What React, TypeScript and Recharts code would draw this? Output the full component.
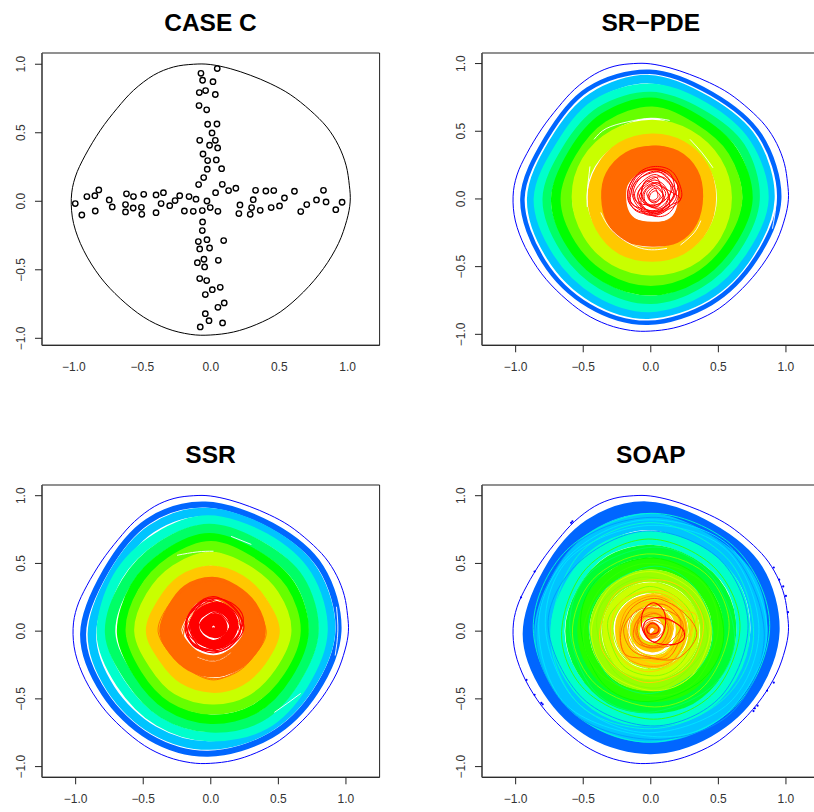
import { ComposedChart, Line, Scatter, XAxis, YAxis, ReferenceArea } from "recharts";

const tickValues = [-1, -0.5, 0, 0.5, 1];

// CASE C sample points
const caseXs = [-0.99,-0.942,-0.905,-0.847,-0.818,-0.844,-0.742,-0.72,-0.616,-0.623,-0.623,-0.565,-0.567,-0.507,-0.504,-0.49,-0.4,-0.4,-0.363,-0.346,-0.3,-0.261,-0.227,-0.193,-0.159,-0.128,-0.108,-0.089,-0.062,-0.028,-0.004,0.035,0.052,0.084,0.13,0.183,0.205,0.213,0.288,0.298,0.31,0.327,0.361,0.402,0.441,0.46,0.502,0.538,0.611,0.657,0.701,0.772,0.823,0.842,0.913,0.959,
  0.047,-0.072,-0.06,0.016,-0.084,-0.038,0.033,-0.086,-0.03,-0.023,0.045,0.009,-0.081,0.033,-0.009,0.05,-0.057,-0.023,0.04,-0.026,0.079,-0.052,-0.06,-0.062,-0.091,-0.028,0.094,-0.081,-0.009,-0.05,0.055,-0.098,-0.045,-0.081,-0.03,0.069,0.011,-0.04,0.098,0.052,-0.04,-0.013,0.086,-0.077];
const caseYs = [-0.017,-0.1,0.034,0.041,0.083,-0.071,0.01,-0.041,0.054,-0.024,-0.078,0.034,-0.049,-0.044,-0.095,0.051,0.046,-0.083,-0.017,0.063,-0.032,0.005,0.041,-0.071,0.034,-0.073,0.015,0.122,-0.068,0.002,-0.046,0.063,-0.073,0.124,0.078,0.095,-0.09,-0.027,-0.095,-0.046,0.012,0.08,-0.066,0.075,-0.046,0.078,-0.034,0.024,0.073,-0.075,-0.024,0.01,0.08,-0.005,-0.061,-0.007,
  0.968,0.934,0.883,0.873,0.793,0.808,0.779,0.698,0.667,0.562,0.564,0.499,0.445,0.445,0.409,0.389,0.345,0.297,0.302,0.234,0.238,0.173,-0.151,-0.214,-0.294,-0.28,-0.287,-0.348,-0.341,-0.423,-0.431,-0.448,-0.479,-0.564,-0.579,-0.628,-0.645,-0.681,-0.742,-0.774,-0.82,-0.871,-0.888,-0.917];

// domain outline, shared by all panels
const boundary = [-0.004,0.998,0.142,0.968,0.288,0.92,0.434,0.859,0.58,0.779,0.726,0.664,0.847,0.542,0.932,0.409,0.988,0.263,1.012,0.117,1.018,-0.005,0.993,-0.139,0.932,-0.309,0.823,-0.491,0.677,-0.662,0.507,-0.808,0.336,-0.898,0.166,-0.954,-0.004,-0.976,-0.15,-0.971,-0.32,-0.929,-0.491,-0.845,-0.661,-0.71,-0.807,-0.553,-0.929,-0.358,-1.002,-0.163,-1.019,0.02,-0.99,0.177,-0.917,0.336,-0.807,0.518,-0.685,0.677,-0.564,0.81,-0.418,0.92,-0.272,0.98,-0.126,1];

// SR-PDE bands, outermost first
const pdeBands = [
  [0.95,0,0.81,0.468,0.449,0.778,-0.01,0.94,-0.467,0.81,-0.775,0.447,-0.95,0,-0.795,-0.459,-0.456,-0.79,-0.02,-0.915,0.445,-0.77,0.773,-0.446],
  [0.885,0,0.758,0.437,0.42,0.727,-0.01,0.885,-0.435,0.753,-0.723,0.417,-0.885,0,-0.74,-0.427,-0.425,-0.736,-0.02,-0.855,0.415,-0.719,0.723,-0.417],
  [0.835,0,0.706,0.407,0.392,0.68,0,0.815,-0.405,0.7,-0.671,0.387,-0.83,0,-0.688,-0.397,-0.395,-0.684,-0.01,-0.8,0.387,-0.671,0.675,-0.39],
  [0.775,0,0.667,0.385,0.367,0.636,0,0.76,-0.375,0.65,-0.628,0.362,-0.77,0,-0.64,-0.37,-0.367,-0.636,0,-0.745,0.362,-0.628,0.632,-0.365],
  [0.715,0,0.606,0.35,0.337,0.585,0,0.71,-0.345,0.598,-0.576,0.332,-0.7,0,-0.585,-0.337,-0.335,-0.58,0,-0.675,0.332,-0.576,0.58,-0.335],
  [0.635,0,0.541,0.312,0.302,0.524,0.01,0.64,-0.31,0.537,-0.52,0.3,-0.625,0,-0.52,-0.3,-0.297,-0.515,0,-0.6,0.297,-0.515,0.52,-0.3],
  [0.545,0.01,0.47,0.27,0.27,0.46,0.01,0.53,-0.26,0.46,-0.46,0.27,-0.53,0.01,-0.45,-0.25,-0.26,-0.44,0,-0.51,0.27,-0.45,0.47,-0.26],
  [0.43,0.02,0.375,0.23,0.22,0.38,0.01,0.43,-0.21,0.37,-0.36,0.21,-0.415,0.01,-0.36,-0.2,-0.21,-0.36,0.01,-0.41,0.22,-0.36,0.38,-0.2],
  [0.295,0.02,0.265,0.17,0.16,0.275,0.01,0.3,-0.14,0.265,-0.25,0.15,-0.275,0.01,-0.24,-0.14,-0.14,-0.235,0.01,-0.26,0.16,-0.24,0.26,-0.14],
];
const pdeWidths = [4.5, 8.5, 10, 8.5, 10.5, 11.5, 15, 14.5, 25];

const pdeOrange = [
  [0.37,0.04,0.31,0.23,0.16,0.36,0.01,0.39,-0.16,0.33,-0.31,0.15,-0.35,0.02,-0.3,-0.17,-0.17,-0.3,0.01,-0.34,0.2,-0.31,0.33,-0.17],
  [0.22,0.05,0.18,0.17,0.04,0.25,-0.1,0.19,-0.2,0.05,-0.16,-0.12,0.02,-0.18,0.17,-0.12],
  [0.25,0.02,0.2,0.2,0.02,0.27,-0.13,0.2,-0.23,0.03,-0.17,-0.15,0.01,-0.2,0.2,-0.14],
];

const pdeRed = [
  [0.23,0.03,0.17,0.19,0.05,0.24,-0.08,0.2,-0.17,0.06,-0.12,-0.08,0.02,-0.11,0.16,-0.06],
  [0.21,0.06,0.15,0.16,0.03,0.22,-0.1,0.17,-0.16,0.03,-0.11,-0.06,0.04,-0.13,0.15,-0.09],
  [0.19,0.02,0.14,0.14,0.06,0.2,-0.07,0.16,-0.14,0.07,-0.1,-0.05,0,-0.1,0.12,-0.07],
  [0.17,0.05,0.12,0.13,0.03,0.18,-0.06,0.13,-0.12,0.04,-0.08,-0.05,0.03,-0.09,0.13,-0.04],
  [0.15,0.07,0.11,0.15,0.04,0.16,-0.05,0.11,-0.1,0.03,-0.07,-0.04,0.02,-0.11,0.1,-0.06],
  [0.13,0.02,0.1,0.1,0.03,0.14,-0.03,0.11,-0.09,0.05,-0.05,-0.03,0.04,-0.07,0.1,-0.04],
  [0.11,0.04,0.08,0.09,0.05,0.12,-0.02,0.09,-0.06,0.03,-0.04,-0.02,0.03,-0.06,0.08,-0.02],
  [0.1,0,0.07,0.07,0.02,0.1,-0.03,0.07,-0.05,0.02,-0.03,-0.04,0.02,-0.05,0.07,-0.03],
  [0.09,0.03,0.07,0.06,0.04,0.08,0,0.06,-0.02,0.02,-0.01,-0.01,0.03,-0.03,0.07,0],
  [0.07,0.02,0.05,0.05,0.03,0.06,0,0.04,-0.01,0.01,0,-0.02,0.03,-0.02,0.05,-0.01],
  [0.05,0.04,0.04,0.07,0.02,0.09,-0.01,0.07,-0.03,0.04,-0.01,0,0.02,-0.01,0.05,0.01],
  [0.22,0,0.12,0.07,0.04,0.12,-0.05,0.08,-0.09,-0.01,-0.05,-0.07,0.03,-0.12,0.14,-0.05],
  [0.2,0.1,0.1,0.2,-0.02,0.21,-0.12,0.12,-0.15,-0.02,-0.07,-0.07,0.06,-0.09,0.14,-0.02],
  [0.16,0.1,0.08,0.19,0,0.2,-0.09,0.14,-0.13,0.05,-0.09,-0.03,0.05,-0.04,0.13,0.02],
  [0.18,0.05,0.14,0.19,0.01,0.22,-0.13,0.15,-0.17,0,-0.09,-0.09,0.05,-0.08,0.14,-0.03],
  [0.14,-0.02,0.12,0.06,0.06,0.1,-0.04,0.13,-0.07,0.02,-0.06,-0.1,0.04,-0.12,0.12,-0.08],
  [0.08,0.08,0.04,0.16,-0.03,0.14,-0.07,0.06,-0.05,-0.02,0.01,-0.06,0.06,-0.05,0.09,0.01],
];

// gaps where the fitted contours do not touch
const pdeGaps = [
  [-0.42,0.44,-0.33,0.52,-0.17,0.57,0,0.596,0.14,0.58],
  [0.29,0.44,0.38,0.34,0.46,0.23],
  [-0.45,0.24,-0.47,0.05,-0.47,-0.06],
  [0.92,0.1,0.925,-0.05,0.9,-0.22],
  [-0.37,-0.1,-0.27,-0.25,-0.07,-0.365,0.12,-0.365],
  [0.37,-0.16,0.32,-0.25,0.22,-0.34],
];

// SSR bands
const ssrBands = [
  [0.945,0,0.815,0.47,0.45,0.78,-0.04,0.935,-0.467,0.81,-0.775,0.447,-0.945,-0.02,-0.79,-0.457,-0.452,-0.784,-0.02,-0.905,0.445,-0.77,0.775,-0.447],
  [0.89,0,0.766,0.442,0.425,0.736,-0.03,0.88,-0.437,0.758,-0.727,0.42,-0.88,-0.02,-0.74,-0.427,-0.422,-0.732,-0.01,-0.845,0.417,-0.723,0.727,-0.42],
  [0.83,0,0.714,0.412,0.4,0.69,-0.02,0.82,-0.4,0.69,-0.69,0.4,-0.81,-0.02,-0.667,-0.385,-0.385,-0.667,-0.01,-0.78,0.4,-0.69,0.685,-0.395],
  [0.76,0,0.655,0.378,0.363,0.628,-0.01,0.755,-0.363,0.628,-0.624,0.36,-0.745,-0.01,-0.6,-0.348,-0.35,-0.606,0,-0.71,0.365,-0.632,0.624,-0.36],
  [0.69,0,0.59,0.34,0.328,0.567,-0.01,0.69,-0.328,0.567,-0.563,0.325,-0.66,-0.01,-0.54,-0.312,-0.318,-0.55,0,-0.65,0.33,-0.572,0.567,-0.328],
  [0.625,0,0.528,0.305,0.295,0.51,0,0.625,-0.295,0.51,-0.5,0.29,-0.59,0,-0.48,-0.278,-0.283,-0.49,0,-0.575,0.292,-0.507,0.51,-0.295],
  [0.545,0,0.455,0.262,0.255,0.442,0,0.535,-0.255,0.442,-0.433,0.25,-0.515,0,-0.41,-0.238,-0.243,-0.42,0.01,-0.49,0.25,-0.433,0.437,-0.252],
  [0.455,0,0.364,0.21,0.21,0.364,0,0.43,-0.208,0.36,-0.346,0.2,-0.425,0,-0.333,-0.192,-0.195,-0.338,0.01,-0.4,0.205,-0.355,0.36,-0.208],
  [0.325,0,0.27,0.16,0.15,0.27,0.01,0.32,-0.15,0.27,-0.25,0.14,-0.3,0,-0.24,-0.12,-0.13,-0.22,0.02,-0.26,0.16,-0.22,0.27,-0.12],
];
const ssrWidths = [6, 8.5, 9.5, 10.5, 9.5, 11, 14, 15, 22];

const ssrOrange = [
  [0.41,0,0.3,0.22,0.17,0.33,-0.02,0.39,-0.2,0.3,-0.32,0.18,-0.39,0,-0.29,-0.18,-0.16,-0.29,0.02,-0.36,0.2,-0.29,0.33,-0.17],
  [0.4,0.03,0.31,0.18,0.15,0.34,0,0.37,-0.17,0.32,-0.3,0.2,-0.37,-0.02,-0.31,-0.15,-0.18,-0.27,0,-0.35,0.18,-0.31,0.31,-0.19],
  [0.26,0,0.2,-0.09,0.12,-0.15,0.03,-0.2,-0.07,-0.18,-0.16,-0.12,-0.2,-0.02,-0.12,0.14,0.02,0.22,0.16,0.16],
  [0.25,-0.04,0.19,-0.12,0.1,-0.18,0.02,-0.22,-0.09,-0.19,-0.17,-0.14,-0.22,-0.04,-0.15,0.12,0.02,0.2,0.17,0.12],
  [0.24,-0.02,0.18,-0.14,0.08,-0.2,0,-0.24,-0.11,-0.2,-0.19,-0.12,-0.2,0,-0.13,0.1,0.04,0.19,0.17,0.1],
];

const ssrCore = [
  [0.17,0.05,0.12,0.14,0.03,0.18,-0.07,0.14,-0.12,0.05,-0.08,-0.05,0.03,-0.1,0.13,-0.05],
  [0.09,0.04,0.07,0.08,0.03,0.1,-0.02,0.08,-0.05,0.04,-0.02,0,0.03,-0.02,0.08,0],
  [0.05,0.03,0.04,0.05,0.02,0.06,0,0.05,-0.01,0.03,0,0.01,0.02,0.01,0.04,0.01],
];
const ssrCoreWidths = [9, 9, 5];

const ssrRed = [
  [0.245,0.03,0.17,0.17,0.02,0.255,-0.12,0.18,-0.19,0.03,-0.13,-0.1,0.02,-0.16,0.17,-0.09],
  [0.23,0.06,0.16,0.19,0.04,0.24,-0.13,0.15,-0.18,0.06,-0.14,-0.08,0.04,-0.15,0.16,-0.1],
  [0.22,0,0.18,0.14,0,0.23,-0.1,0.17,-0.17,0,-0.12,-0.1,0,-0.14,0.15,-0.08],
  [0.2,0.04,0.15,0.15,0.05,0.21,-0.1,0.14,-0.16,0.04,-0.11,-0.07,0.03,-0.13,0.14,-0.07],
  [0.19,0.07,0.13,0.17,0.02,0.2,-0.09,0.15,-0.15,0.07,-0.11,-0.05,0.05,-0.12,0.15,-0.05],
  [0.18,0.01,0.14,0.12,0.04,0.19,-0.08,0.13,-0.14,0.02,-0.09,-0.08,0.02,-0.11,0.13,-0.06],
  [0.17,0.05,0.12,0.13,0.01,0.17,-0.08,0.12,-0.13,0.05,-0.09,-0.05,0.04,-0.1,0.12,-0.04],
  [0.16,0.02,0.12,0.11,0.05,0.16,-0.06,0.12,-0.11,0.02,-0.08,-0.06,0.03,-0.09,0.11,-0.05],
  [0.15,0.06,0.1,0.12,0.02,0.15,-0.07,0.1,-0.11,0.05,-0.07,-0.03,0.04,-0.08,0.11,-0.02],
  [0.14,0.03,0.11,0.09,0.04,0.14,-0.04,0.1,-0.09,0.03,-0.06,-0.05,0.02,-0.07,0.1,-0.03],
  [0.24,0.1,0.15,0.21,-0.02,0.24,-0.16,0.13,-0.17,-0.02,-0.11,-0.12,0.06,-0.14,0.19,-0.04],
  [0.21,-0.02,0.17,0.09,0.07,0.18,-0.05,0.22,-0.18,0.09,-0.15,-0.04,-0.02,-0.12,0.12,-0.11],
  [0.19,0.1,0.1,0.2,-0.04,0.19,-0.14,0.08,-0.13,-0.05,-0.05,-0.13,0.08,-0.1,0.17,-0.02],
];

const ssrGaps = [
  [-0.25,0.56,-0.1,0.585,0.02,0.59],
  [0.15,0.7,0.3,0.64],
  [0.47,-0.6,0.57,-0.53,0.665,-0.46],
  [0.93,0.18,0.94,0,0.92,-0.18],
  [-0.1,-0.19,0.03,-0.22,0.15,-0.16],
];

// SOAP bands and loose loops
const soapBands = [
  [0.905,0,0.784,0.452,0.435,0.753,-0.03,0.91,-0.45,0.78,-0.75,0.432,-0.9,-0.02,-0.753,-0.435,-0.43,-0.745,0,-0.86,0.425,-0.736,0.753,-0.435],
  [0.8,0,0.7,0.4,0.39,0.67,-0.01,0.81,-0.4,0.69,-0.67,0.39,-0.8,-0.01,-0.67,-0.385,-0.385,-0.66,0,-0.76,0.38,-0.66,0.67,-0.385],
  [0.685,0,0.6,0.345,0.34,0.585,0,0.69,-0.35,0.6,-0.585,0.34,-0.69,0,-0.585,-0.335,-0.34,-0.575,0,-0.655,0.335,-0.58,0.585,-0.335],
  [0.585,0,0.51,0.295,0.29,0.5,0,0.59,-0.3,0.51,-0.5,0.29,-0.585,0,-0.5,-0.285,-0.29,-0.495,0,-0.56,0.29,-0.495,0.5,-0.285],
  [0.5,0,0.43,0.25,0.25,0.43,0,0.5,-0.25,0.43,-0.43,0.25,-0.5,0,-0.43,-0.245,-0.25,-0.425,0,-0.48,0.25,-0.425,0.43,-0.245],
  [0.41,0,0.355,0.205,0.205,0.355,0,0.41,-0.205,0.355,-0.355,0.205,-0.41,0,-0.355,-0.2,-0.205,-0.35,0,-0.4,0.205,-0.35,0.355,-0.2],
  [0.32,0.01,0.28,0.16,0.16,0.28,0,0.32,-0.16,0.28,-0.28,0.16,-0.32,0,-0.28,-0.16,-0.16,-0.28,0,-0.32,0.16,-0.28,0.28,-0.16],
  [0.23,0.01,0.2,0.12,0.12,0.21,0.01,0.23,-0.11,0.2,-0.2,0.11,-0.22,0,-0.19,-0.12,-0.11,-0.2,0.01,-0.23,0.12,-0.2,0.2,-0.11],
  [0.13,0.02,0.11,0.08,0.07,0.12,0.01,0.14,-0.06,0.12,-0.1,0.07,-0.12,0,-0.1,-0.06,-0.06,-0.1,0.01,-0.12,0.07,-0.1,0.11,-0.06],
  [0.05,0.01,0.04,0.03,0.01,0.05,-0.02,0.03,-0.03,0,-0.02,-0.03,0,-0.04,0.03,-0.02],
];
const soapWidths = [13, 17, 14, 13, 12, 12, 11, 12, 10, 6];

const soapCyan = [
  [0.88,0.04,0.62,0.62,0,0.87,-0.62,0.6,-0.87,0.02,-0.6,-0.58,0,-0.82,0.62,-0.56],
  [0.84,-0.03,0.6,0.58,0.04,0.84,-0.58,0.62,-0.85,-0.03,-0.58,-0.6,0.03,-0.8,0.6,-0.6],
  [0.8,0.02,0.56,0.6,-0.02,0.78,-0.6,0.54,-0.78,0.03,-0.55,-0.52,-0.02,-0.75,0.58,-0.53],
  [0.76,-0.04,0.58,0.52,0.03,0.8,-0.52,0.58,-0.74,-0.03,-0.52,-0.55,0.02,-0.72,0.54,-0.5],
  [0.72,0.05,0.5,0.54,-0.03,0.74,-0.54,0.5,-0.76,0.04,-0.5,-0.5,0.03,-0.7,0.52,-0.48],
  [0.86,-0.01,0.58,0.63,-0.05,0.82,-0.6,0.56,-0.83,0.05,-0.62,-0.55,0.05,-0.78,0.57,-0.6],
];
const soapGreen = [
  [0.66,0.04,0.46,0.48,-0.02,0.68,-0.48,0.46,-0.66,-0.03,-0.47,-0.45,0.02,-0.65,0.47,-0.45],
  [0.62,-0.05,0.44,0.42,0.04,0.62,-0.44,0.44,-0.6,0.04,-0.42,-0.44,-0.03,-0.6,0.44,-0.42],
  [0.58,0.04,0.4,0.43,-0.03,0.57,-0.43,0.38,-0.58,-0.02,-0.4,-0.4,0.03,-0.56,0.4,-0.4],
  [0.54,-0.03,0.4,0.36,0.02,0.54,-0.38,0.4,-0.52,0.05,-0.36,-0.38,-0.02,-0.52,0.38,-0.36],
  [0.5,0.03,0.36,0.38,-0.04,0.5,-0.36,0.33,-0.5,-0.03,-0.36,-0.33,0.03,-0.48,0.34,-0.36],
  [0.46,-0.02,0.32,0.33,0.03,0.48,-0.33,0.32,-0.46,0.03,-0.31,-0.34,0,-0.46,0.33,-0.3],
];
const soapYellow = [
  [0.44,0.02,0.31,0.3,0,0.44,-0.3,0.32,-0.44,0,-0.32,-0.3,0.02,-0.44,0.31,-0.32],
  [0.42,-0.04,0.3,0.26,-0.03,0.4,-0.31,0.27,-0.4,0.03,-0.26,-0.31,0.04,-0.42,0.29,-0.27],
  [0.39,0.05,0.26,0.3,0.02,0.38,-0.26,0.28,-0.38,-0.03,-0.28,-0.25,-0.02,-0.38,0.28,-0.26],
  [0.37,-0.02,0.27,0.24,-0.02,0.37,-0.27,0.24,-0.36,0.02,-0.25,-0.27,0.03,-0.36,0.25,-0.25],
  [0.35,0.04,0.24,0.26,0.03,0.34,-0.24,0.25,-0.35,-0.02,-0.24,-0.22,0,-0.34,0.25,-0.23],
  [0.33,0,0.24,0.21,-0.01,0.33,-0.24,0.2,-0.32,0.03,-0.21,-0.25,0.03,-0.33,0.22,-0.24],
  [0.31,0.05,0.2,0.24,0.02,0.3,-0.22,0.22,-0.3,0,-0.22,-0.2,-0.02,-0.3,0.22,-0.2],
  [0.29,-0.03,0.21,0.19,0,0.29,-0.2,0.2,-0.28,0.02,-0.19,-0.2,0.03,-0.28,0.19,-0.2],
];
const soapAmber = [
  [0.3,0.05,0.22,0.2,0.05,0.28,-0.15,0.21,-0.24,0.04,-0.17,-0.18,0.03,-0.27,0.23,-0.18],
  [0.26,0,0.2,0.17,0.02,0.26,-0.17,0.17,-0.23,-0.02,-0.17,-0.2,0.02,-0.26,0.18,-0.2],
  [0.28,0.06,0.18,0.2,0,0.23,-0.14,0.16,-0.2,0.03,-0.15,-0.14,0.04,-0.24,0.2,-0.14],
  [0.24,-0.02,0.19,0.13,0.05,0.22,-0.12,0.17,-0.18,0.05,-0.13,-0.17,0,-0.22,0.16,-0.17],
  [0.22,0.04,0.15,0.17,0.02,0.2,-0.13,0.13,-0.17,-0.03,-0.12,-0.13,0.04,-0.2,0.15,-0.14],
  [0.2,0,0.15,0.12,-0.01,0.19,-0.12,0.12,-0.15,0.02,-0.11,-0.13,0.02,-0.18,0.14,-0.12],
  [0.17,0.04,0.12,0.13,0.03,0.16,-0.09,0.1,-0.14,0.01,-0.1,-0.1,0.03,-0.15,0.12,-0.1],
  [0.15,0,0.1,0.1,0,0.14,-0.09,0.09,-0.12,0.02,-0.08,-0.09,0.02,-0.13,0.1,-0.09],
  [0.12,0.02,0.09,0.08,0.02,0.11,-0.06,0.07,-0.09,0,-0.06,-0.07,0.02,-0.1,0.08,-0.06],
  [0.34,0.1,0.22,0.16,0.08,0.22,-0.08,0.2,-0.19,0.1,-0.13,-0.1,0,-0.18,0.2,-0.12],
];
const soapOrange = [
  [0.34,-0.03,0.25,0.13,0.05,0.24,-0.13,0.18,-0.22,0,-0.19,-0.17,-0.02,-0.2,0.2,-0.2],
  [0.24,0.03,0.17,0.13,0.03,0.17,-0.1,0.15,-0.2,0.02,-0.14,-0.14,0.03,-0.2,0.15,-0.18],
  [0.25,0,0.16,0.07,0.04,0.1,-0.08,0.1,-0.13,-0.02,-0.08,-0.1,0.04,-0.12,0.16,-0.1],
  [0.13,0.02,0.09,0.1,0.02,0.13,-0.07,0.09,-0.11,0,-0.07,-0.08,0.02,-0.11,0.09,-0.08],
  [0.1,0.03,0.07,0.06,0.02,0.08,-0.03,0.06,-0.06,0.02,-0.03,-0.03,0.03,-0.05,0.08,-0.02],
  [0.07,0.01,0.05,0.04,0.01,0.05,-0.03,0.03,-0.05,0,-0.03,-0.03,0.01,-0.04,0.05,-0.03],
  [0.05,0,0.04,0.02,0,0.03,-0.03,0.02,-0.03,-0.01,-0.02,-0.03,0.01,-0.03,0.04,-0.02],
  [0.2,0.12,0.08,0.2,-0.06,0.14,-0.1,0.02,-0.06,-0.1,0.03,-0.12,0.14,-0.08,0.22,0.02],
];
const soapRed = [
  [0.11,0.08,0.09,0.16,0.02,0.21,-0.05,0.16,-0.07,0.06,-0.04,-0.03,0.03,-0.08,0.09,-0.02],
  [0.25,-0.02,0.2,0.05,0.09,0.1,-0.03,0.08,-0.05,0.01,0,-0.07,0.12,-0.1,0.22,-0.08],
  [0.06,0.02,0.04,0.05,0.01,0.06,-0.02,0.04,-0.03,0.01,-0.01,-0.02,0.02,-0.02,0.05,-0.01],
];
const soapSpeckXs = [-0.96,-0.86,-0.59,-0.58,0.91,0.95,0.98,1,1.015,0.91,0.86,0.79,0.77,0.76,-0.92,-0.86,-0.81,-0.8];
const soapSpeckYs = [0.25,0.44,0.8,0.81,0.47,0.38,0.33,0.26,0.14,-0.38,-0.44,-0.55,-0.57,-0.59,-0.36,-0.47,-0.53,-0.54];

const bandColors = ["#0066FF", "#00C4FF", "#00FFCC", "#00FF66", "#00FF00", "#66FF00", "#C8FF00", "#FFC800", "#FF6A00"];
const soapColors = ["#0066FF", "#00C4FF", "#00FFCC", "#00FF33", "#22FF00", "#99FF00", "#CCFF00", "#FFD000", "#FFC000", "#FF9900"];

const toPoints = (flat: number[]) => {
  const out: { x: number; y: number }[] = [];
  for (let i = 0; i < flat.length; i += 2) out.push({ x: flat[i], y: flat[i + 1] });
  return out;
};

const closedCurve = (ctx: any) => {
  let pts: number[][] = [];
  return {
    areaStart() {},
    areaEnd() {},
    lineStart() {
      pts = [];
    },
    point(x: number, y: number) {
      pts.push([x, y]);
    },
    lineEnd() {
      const n = pts.length;
      ctx.moveTo(pts[0][0], pts[0][1]);
      for (let i = 0; i < n; i++) {
        const a = pts[(i + n - 1) % n];
        const b = pts[i];
        const c = pts[(i + 1) % n];
        const d = pts[(i + 2) % n];
        ctx.bezierCurveTo(
          b[0] + (c[0] - a[0]) / 6,
          b[1] + (c[1] - a[1]) / 6,
          c[0] - (d[0] - b[0]) / 6,
          c[1] - (d[1] - b[1]) / 6,
          c[0],
          c[1]
        );
      }
      ctx.closePath();
    },
  };
};

const fmt = (v: number) => v.toFixed(1).replace("-", "\u2212");
const font = "'Liberation Sans', Arial, sans-serif";

const YTick = ({ x, y, payload }: any) => (
  <text
    x={x - 8}
    y={y}
    transform={`rotate(-90 ${x - 8} ${y})`}
    textAnchor="middle"
    fontSize={12}
    fontFamily={font}
    fill="#333"
  >
    {fmt(payload.value)}
  </text>
);

type Ring = { data: number[]; color: string; width: number; open?: boolean };

const BOX_W = 337.6;
const BOX_H = 292.3;

function Panel({
  title,
  left,
  top,
  xDomain,
  yDomain,
  xTicks = true,
  rings = [],
  dots,
  specks,
}: {
  title: string;
  left: number;
  top: number;
  xDomain: number[];
  yDomain: number[];
  xTicks?: boolean;
  rings?: Ring[];
  dots?: { x: number; y: number }[];
  specks?: { x: number; y: number }[];
}) {
  const centre = left + (-xDomain[0] / (xDomain[1] - xDomain[0])) * BOX_W;
  return (
    <>
      <div
        style={{
          position: "absolute",
          left: centre - 150,
          width: 300,
          top: top - 44,
          textAlign: "center",
          fontFamily: font,
          fontWeight: "bold",
          fontSize: 24.5,
          lineHeight: "28px",
          color: "#000",
        }}
      >
        {title}
      </div>
      <div style={{ position: "absolute", left: left - 42, top: top - 10 }}>
        <ComposedChart
          width={42 + BOX_W + 10}
          height={10 + BOX_H + 40}
          margin={{ top: 10, right: 10, left: 0, bottom: 0 }}
        >
          <XAxis
            type="number"
            dataKey="x"
            domain={xDomain}
            allowDataOverflow
            ticks={tickValues}
            tickFormatter={fmt}
            interval={0}
            height={40}
            tickSize={7}
            tickMargin={10}
            tickLine={xTicks ? { stroke: "#222" } : false}
            axisLine={{ stroke: "#222" }}
            tick={{ fontSize: 12, fontFamily: font, fill: "#333" }}
          />
          <YAxis
            type="number"
            dataKey="y"
            domain={yDomain}
            allowDataOverflow
            ticks={tickValues}
            interval={0}
            width={42}
            tickSize={7}
            tickLine={{ stroke: "#222" }}
            axisLine={{ stroke: "#555", strokeWidth: 1.5 }}
            tick={<YTick />}
          />
          {rings.map((r, i) => (
            <Line
              key={i}
              data={toPoints(r.data)}
              dataKey="y"
              type={r.open ? "natural" : (closedCurve as any)}
              stroke={r.color}
              strokeWidth={r.width}
              dot={false}
              activeDot={false}
              isAnimationActive={false}
            />
          ))}
          {dots && (
            <Scatter
              data={dots}
              isAnimationActive={false}
              shape={(p: any) => <circle cx={p.cx} cy={p.cy} r={2.7} fill="none" stroke="#000" strokeWidth={1.4} />}
            />
          )}
          {specks && (
            <Scatter
              data={specks}
              isAnimationActive={false}
              shape={(p: any) => <circle cx={p.cx} cy={p.cy} r={1.1} fill="#0000FF" />}
            />
          )}
          <ReferenceArea
            x1={xDomain[0]}
            x2={xDomain[1]}
            y1={yDomain[0]}
            y2={yDomain[1]}
            fill="none"
            stroke="#222"
            strokeWidth={1}
            ifOverflow="visible"
          />
        </ComposedChart>
      </div>
    </>
  );
}

const outline = (color: string): Ring => ({ data: boundary, color, width: 1 });
const thin = (loops: number[][], colors: string[], width = 0.9): Ring[] =>
  loops.map((data, i) => ({ data, color: colors[i % colors.length], width }));
const gaps = (arcs: number[][]): Ring[] => arcs.map((data) => ({ data, color: "#fff", width: 0.9, open: true }));

const caseRings = [outline("#000")];
const pdeRings = [
  outline("#0000FF"),
  ...pdeBands.map((data, i) => ({ data, color: bandColors[i], width: pdeWidths[i] })),
  ...gaps(pdeGaps),
  ...thin(pdeOrange, ["#FF6A00"]),
  ...thin(pdeRed, ["#FF0000"], 1),
];
const ssrRings = [
  outline("#0000FF"),
  ...ssrBands.map((data, i) => ({ data, color: bandColors[i], width: ssrWidths[i] })),
  ...gaps(ssrGaps),
  ...thin(ssrOrange, ["#FF6A00"]),
  ...ssrCore.map((data, i) => ({ data, color: "#FF0000", width: ssrCoreWidths[i] })),
  ...thin(ssrRed, ["#FF0000"], 1.2),
];
const soapRings = [
  outline("#0000FF"),
  ...soapBands.map((data, i) => ({ data, color: soapColors[i], width: soapWidths[i] })),
  ...thin(soapCyan, ["#00FFCC", "#0099FF", "#00E5FF"]),
  ...thin(soapGreen, ["#33FF00", "#00FF66", "#88FF00", "#00FF00"]),
  ...thin(soapYellow, ["#CCFF00", "#88FF00", "#FFD000", "#AAFF00"], 1),
  ...thin(soapAmber, ["#FFC800", "#FF9900", "#CCFF00"], 1),
  ...thin(soapOrange, ["#FF6A00"], 1),
  ...thin(soapRed, ["#FF0000"], 1.1),
];

const caseDots = caseXs.map((x, i) => ({ x, y: caseYs[i] }));
const soapSpecks = soapSpeckXs.map((x, i) => ({ x, y: soapSpeckYs[i] }));

export default function App() {
  return (
    <div style={{ position: "absolute", left: 0, top: 0, width: 814, height: 812, overflow: "hidden", background: "#fff" }}>
      <Panel title="CASE C" left={41.7} top={52.7} xDomain={[-1.233, 1.233]} yDomain={[-1.051, 1.082]} xTicks={false} rings={caseRings} dots={caseDots} />
      <Panel title="SR−PDE" left={482} top={52.7} xDomain={[-1.249, 1.249]} yDomain={[-1.081, 1.078]} rings={pdeRings} />
      <Panel title="SSR" left={41.7} top={485.3} xDomain={[-1.249, 1.249]} yDomain={[-1.079, 1.079]} rings={ssrRings} />
      <Panel title="SOAP" left={482} top={485.3} xDomain={[-1.249, 1.249]} yDomain={[-1.079, 1.079]} rings={soapRings} specks={soapSpecks} />
    </div>
  );
}
